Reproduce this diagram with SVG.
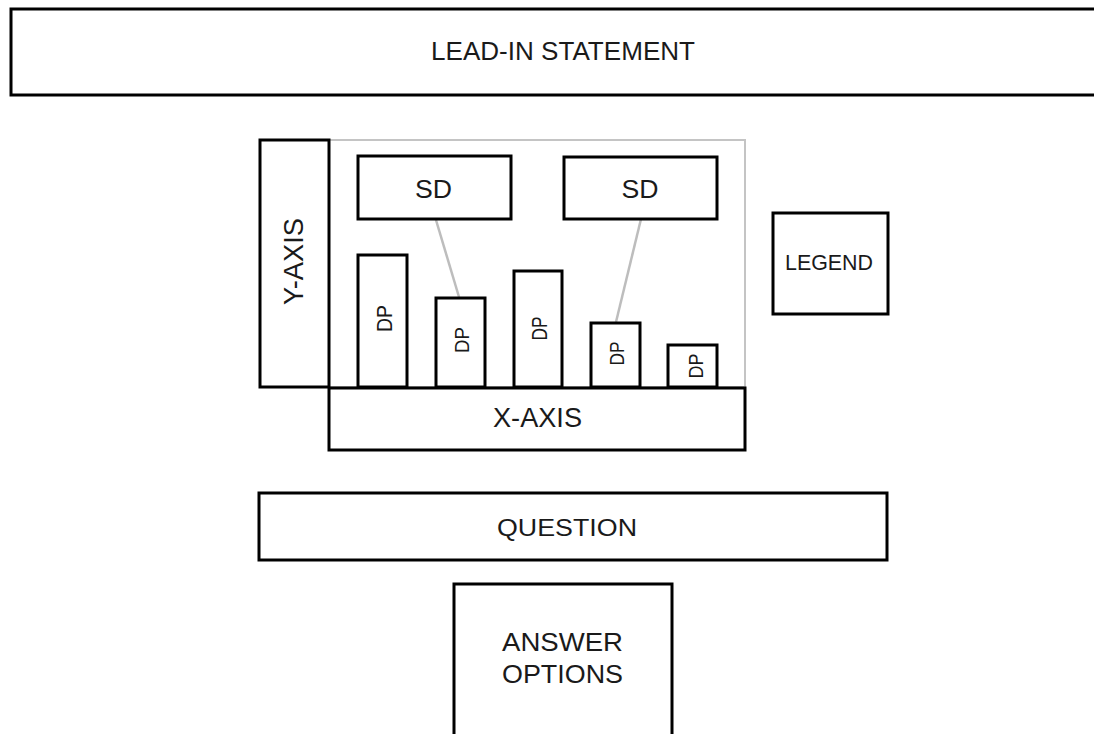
<svg xmlns="http://www.w3.org/2000/svg" width="1094" height="734" viewBox="0 0 1094 734">
<style>
.box{fill:#fff;stroke:#000;stroke-width:3}
.frame{fill:none;stroke:#c4c4c4;stroke-width:2}
.link{stroke:#bdbdbd;stroke-width:2.5;fill:none}
text{font-family:"Liberation Sans",Arial,sans-serif;fill:#1a1a1a;text-anchor:middle}
</style>
<rect width="1094" height="734" fill="#fff"/>
<g id="lead-in"><rect class="box" x="11" y="9" width="1110" height="86"/><text x="563" y="60" font-size="26" textLength="264" lengthAdjust="spacingAndGlyphs">LEAD-IN STATEMENT</text></g>
<g id="plot-area"><rect class="frame" x="329" y="140" width="416" height="247"/></g>
<g id="connectors">
<line class="link" x1="436" y1="220" x2="459" y2="297"/>
<line class="link" x1="641" y1="219" x2="616" y2="322"/>
</g>
<g id="y-axis"><rect class="box" x="260" y="140" width="69" height="247"/><text transform="translate(293,261.5) rotate(-90)" x="0" y="10" font-size="27" textLength="87" lengthAdjust="spacingAndGlyphs">Y-AXIS</text></g>
<g id="sd1"><rect class="box" x="358" y="156" width="153" height="63"/><text x="433.5" y="198" font-size="25" textLength="37" lengthAdjust="spacingAndGlyphs">SD</text></g>
<g id="sd2"><rect class="box" x="564" y="157" width="153" height="62"/><text x="640" y="198" font-size="25" textLength="37" lengthAdjust="spacingAndGlyphs">SD</text></g>
<g id="dp1"><rect class="box" x="358" y="255" width="49" height="132"/><text transform="translate(383.5,318.5) rotate(-90)" x="0" y="8.5" font-size="22" textLength="27" lengthAdjust="spacingAndGlyphs">DP</text></g>
<g id="dp2"><rect class="box" x="436" y="298" width="49" height="89"/><text transform="translate(461,340) rotate(-90)" x="0" y="8" font-size="21" textLength="26" lengthAdjust="spacingAndGlyphs">DP</text></g>
<g id="dp3"><rect class="box" x="514" y="271" width="48" height="116"/><text transform="translate(538.5,328.5) rotate(-90)" x="0" y="8.5" font-size="22" textLength="24" lengthAdjust="spacingAndGlyphs">DP</text></g>
<g id="dp4"><rect class="box" x="591" y="323" width="49" height="64"/><text transform="translate(615.5,353.5) rotate(-90)" x="0" y="8" font-size="21" textLength="24" lengthAdjust="spacingAndGlyphs">DP</text></g>
<g id="dp5"><rect class="box" x="668" y="345" width="49" height="42"/><text transform="translate(694.5,366) rotate(-90)" x="0" y="8" font-size="21" textLength="25" lengthAdjust="spacingAndGlyphs">DP</text></g>
<g id="x-axis"><rect class="box" x="329" y="388" width="416" height="62"/><text x="537.5" y="427" font-size="27" textLength="89" lengthAdjust="spacingAndGlyphs">X-AXIS</text></g>
<g id="legend"><rect class="box" x="773" y="213" width="115" height="101"/><text x="829" y="270" font-size="22" textLength="88" lengthAdjust="spacingAndGlyphs">LEGEND</text></g>
<g id="question"><rect class="box" x="259" y="493" width="628" height="67"/><text x="567" y="535.5" font-size="23" textLength="140" lengthAdjust="spacingAndGlyphs">QUESTION</text></g>
<g id="answer-options"><rect class="box" x="454" y="584" width="218" height="200"/><text x="562.5" y="651" font-size="25" textLength="121" lengthAdjust="spacingAndGlyphs">ANSWER</text><text x="562.5" y="683" font-size="25" textLength="121" lengthAdjust="spacingAndGlyphs">OPTIONS</text></g>
</svg>
